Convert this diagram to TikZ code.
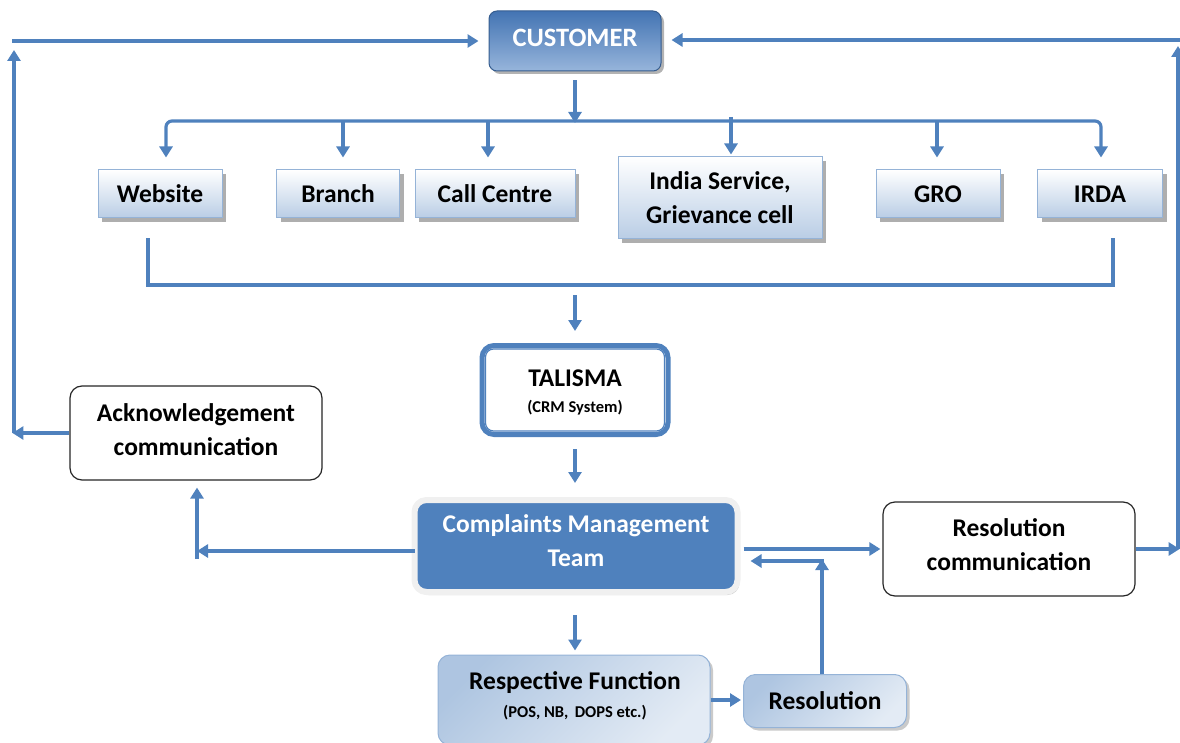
\documentclass[tikz,border=0pt]{standalone}
\usepackage{fontspec}
\setmainfont{Carlito}
\usetikzlibrary{arrows.meta,shadows}
\definecolor{lnblue}{HTML}{4F81BD}
\definecolor{boxbot}{HTML}{B9CDE5}
\definecolor{boxbd}{HTML}{95B3D7}
\definecolor{custtop}{HTML}{4374B3}
\definecolor{custbot}{HTML}{97B5DB}
\tikzset{
  conn/.style={draw=lnblue, line width=3.2pt},
  arr/.style={conn, -{Triangle[width=13pt,length=11pt]}},
  arrboth/.style={conn, {Triangle[width=13pt,length=11pt]}-{Triangle[width=13pt,length=11pt]}},
  lbl/.style={font=\fontsize{25.5}{34}\selectfont\bfseries, align=center, inner sep=0pt},
  srcbox/.style={lbl, draw=boxbd, line width=1pt, top color=white, bottom color=boxbot,
     drop shadow={shadow xshift=4pt, shadow yshift=-4pt, fill=black!45, opacity=0.7}},
  custbox/.style={lbl, rounded corners=8pt,
     draw=custtop!80!black, line width=1pt, top color=custtop, bottom color=custbot,
     drop shadow={shadow xshift=3pt, shadow yshift=-3pt, fill=black!50, opacity=0.6}},
  commbox/.style={lbl, draw=black!85, line width=1.2pt, rounded corners=12pt, fill=white},
  talbox/.style={lbl, draw=lnblue, line width=5pt, rounded corners=12pt, fill=white},
  cmtbox/.style={lbl, fill=lnblue, draw=black!6, line width=6pt, rounded corners=12pt,
     drop shadow={shadow xshift=2pt, shadow yshift=-3pt, fill=black!30, opacity=0.6}},
  funcbox/.style={lbl, rounded corners=12pt, draw=boxbd, line width=1pt,
     left color=boxbot!90!lnblue, right color=boxbot!40, shading angle=45,
     drop shadow={shadow xshift=3pt, shadow yshift=-3pt, fill=black!35, opacity=0.6}},
  smalltxt/.style={font=\fontsize{16.5}{19}\selectfont\bfseries, inner sep=0pt}
}
\begin{document}
\begin{tikzpicture}[x=1pt,y=-1pt]
\useasboundingbox (0,0) rectangle (1180,743);

% nodes
\node[custbox, minimum width=172pt, minimum height=60pt] (cust) at (575,41) {};
\node[lbl, text=white, font=\fontsize{26.5}{34}\selectfont\bfseries] (custtxt) at (575,38) {CUSTOMER};

\node[srcbox, minimum width=124pt, minimum height=48pt] (web) at (160,194) {Website};
\node[srcbox, minimum width=123pt, minimum height=48pt] (branch) at (338,194) {Branch};
\node[srcbox, minimum width=160pt, minimum height=48pt] (callc) at (495,194) {Call Centre};
\node[srcbox, minimum width=204pt, minimum height=82pt] (india) at (720,198) {India Service,\\Grievance cell};
\node[srcbox, minimum width=124pt, minimum height=48pt] (gro) at (938,194) {GRO};
\node[srcbox, minimum width=125pt, minimum height=48pt] (irda) at (1100,194) {IRDA};

\node[talbox, minimum width=186pt, minimum height=89pt] (tal) at (575,390) {};
\draw[lnblue, line width=1.2pt, rounded corners=8pt]
  ([xshift=6pt,yshift=-6pt]tal.north west) rectangle ([xshift=-6pt,yshift=6pt]tal.south east);
\node[lbl] (taltxt) at (575,378) {TALISMA};
\node[smalltxt] (talsub) at (575,408) {(CRM System)};

\node[cmtbox, minimum width=323pt, minimum height=92pt] (cmt) at (576,546) {};
\node[lbl, text=white] (cmttxt) at (576,541) {Complaints Management\\Team};

\node[commbox, minimum width=252pt, minimum height=94pt] (ack) at (196,433) {};
\node[lbl] (acktxt) at (196,430) {Acknowledgement\\communication};
\node[commbox, minimum width=252pt, minimum height=94pt] (rc) at (1009,549) {};
\node[lbl] (rctxt) at (1009,545) {Resolution\\communication};

\node[funcbox, minimum width=272pt, minimum height=90pt] (func) at (574,700) {};
\node[lbl] (functxt) at (575,683) {Respective Function};
\node[smalltxt] (funcsub) at (575,713) {(POS, NB,\, DOPS etc.)};

\node[funcbox, minimum width=163pt, minimum height=53pt] (res) at (825,701) {Resolution};

% coordinates
\coordinate (bus) at (575,121);
\coordinate (lowbus) at (575,285);
\coordinate (rj) at (822,561);
\coordinate (rR) at (1178,549);
\coordinate (rT) at (1178,40);
\coordinate (lB) at (14,433);
\coordinate (lT) at (14,41);
\coordinate (lA) at (197,551);

% top distribution
\draw[arr] ([yshift=-9pt]cust.south) -- ([yshift=-2pt]bus);
\draw[arrboth, rounded corners=6pt] ([xshift=6pt,yshift=12pt]web.north) |- (bus)
   -| ([xshift=1pt,yshift=12pt]irda.north);
\draw[arr] ([xshift=5pt]branch.north |- bus) -- ([xshift=5pt,yshift=12pt]branch.north);
\draw[arr] ([xshift=-7pt]callc.north |- bus) -- ([xshift=-7pt,yshift=12pt]callc.north);
\draw[arr] ([xshift=11pt,yshift=4pt]india.north |- bus) -- ([xshift=11pt,yshift=2pt]india.north);
\draw[arr] ([xshift=-1pt]gro.north |- bus) -- ([xshift=-1pt,yshift=12pt]gro.north);

% collection
\draw[conn] ([xshift=-12pt,yshift=-20pt]web.south) |- (lowbus)
   -| ([xshift=13pt,yshift=-20pt]irda.south);
\draw[arr] ([yshift=-10pt]lowbus) -- ([yshift=12pt]tal.north);
\draw[arr] ([yshift=-12pt]tal.south) -- ([yshift=14pt]cmt.north -| tal.south);
\draw[arr] ([yshift=-20pt]cmt.south -| tal.south) -- ([yshift=4pt]func.north -| tal.south);
\draw[arr] (func.east) -- ([xshift=-2pt]res.west |- func.east);

% resolution loop
\draw[arr] ([xshift=-3pt]res.north) -- ([yshift=2pt]rj);
\draw[conn] ([xshift=-3pt]res.north) -- (rj);
\draw[arr] ([xshift=1.6pt]rj) -- ([xshift=10pt]cmt.east |- rj);
\draw[arr] ([xshift=3pt]cmt.east |- rc.west) -- ([xshift=-2pt]rc.west);
\draw[arr] (rc.east) -- ([xshift=1.6pt]rR);
\draw[arr] (rR) -- ([yshift=-6pt]rT);
\draw[arr] ([xshift=1.6pt]rT) -- ([xshift=10pt]cust.east |- rT);

% acknowledgement loop
\draw[arr] ([xshift=3pt]cmt.west |- lA) -- (lA);
\draw[arr] ([yshift=-8pt]lA) -- ([xshift=1pt,yshift=-7pt]ack.south);
\draw[arr] (ack.west) -- ([xshift=-1.6pt]lB);
\draw[arr] (lB) -- ([yshift=-9pt]lT);
\draw[arr] ([xshift=-1.6pt]lT) -- ([xshift=-10pt]cust.west |- lT);
\end{tikzpicture}
\end{document}
